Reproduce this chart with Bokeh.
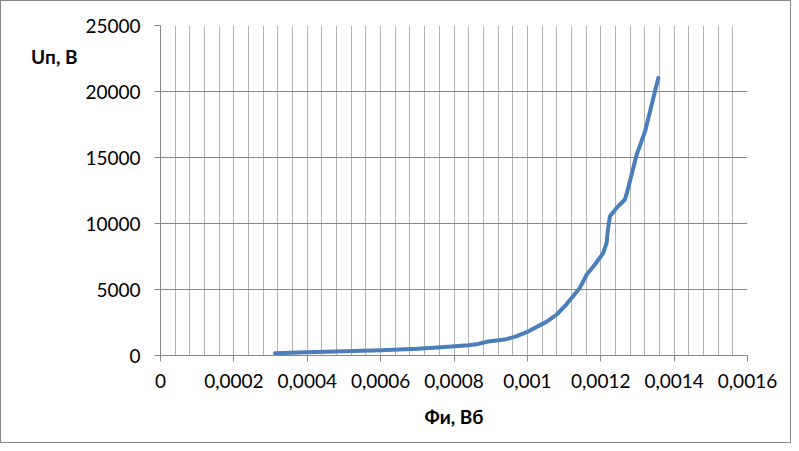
from bokeh.plotting import figure
from bokeh.models import Range1d, FixedTicker, LinearAxis
from bokeh.embed import file_html
from bokeh.resources import INLINE

phi = [0.000312, 0.000398, 0.000500, 0.000602, 0.000700, 0.000766, 0.000802, 0.000839,
       0.000866, 0.000893, 0.000916, 0.000943, 0.000971, 0.000998, 0.001025, 0.001052,
       0.001080, 0.001102, 0.001121, 0.001143, 0.001162, 0.001184, 0.001207, 0.001216,
       0.001219, 0.001225, 0.001243, 0.001266, 0.001275, 0.001284, 0.001298, 0.001321,
       0.001339, 0.001357]
U = [174, 250, 320, 400, 510, 629, 705, 780, 879, 1061, 1136, 1235, 1462, 1765, 2167,
     2545, 3106, 3735, 4364, 5121, 6136, 6894, 7773, 8530, 9417, 10553, 11182, 11818,
     12697, 13712, 15227, 16993, 19015, 21031]

x_ticks = [0, 0.0002, 0.0004, 0.0006, 0.0008, 0.001, 0.0012, 0.0014, 0.0016]
x_tick_labels = ["0", "0,0002", "0,0004", "0,0006", "0,0008", "0,001", "0,0012", "0,0014", "0,0016"]
x_minor = [i * 0.00004 for i in range(41)]
y_ticks = [0, 5000, 10000, 15000, 20000, 25000]
y_tick_labels = ["0", "5000", "10000", "15000", "20000", "25000"]
y_title = "Uп, В"
y_title_at = 22650

FONT = "Lato"
GRAY = "#868686"

p = figure(width=791, height=443, output_backend="svg", toolbar_location=None,
           x_range=Range1d(0, 0.0016), y_range=Range1d(0, 25000),
           min_border_left=159, min_border_right=45, min_border_top=24, min_border_bottom=89)
p.outline_line_color = None
p.background_fill_color = "white"
p.border_fill_color = "white"
p.styles = {"border": "1px solid #868686"}

p.line(phi, U, line_color="#4A7EBB", line_width=4, line_join="round", line_cap="round")

p.xaxis.ticker = FixedTicker(ticks=x_ticks, minor_ticks=x_minor)
p.xaxis.major_label_overrides = {t: l for t, l in zip(x_ticks, x_tick_labels)}
p.yaxis.ticker = FixedTicker(ticks=y_ticks)
p.yaxis.major_label_overrides = {t: l for t, l in zip(y_ticks, y_tick_labels)}

for ax in (p.xaxis[0], p.yaxis[0]):
    ax.axis_line_color = GRAY
    ax.major_tick_line_color = GRAY
    ax.major_tick_out = 6
    ax.major_tick_in = 0
    ax.minor_tick_line_color = None
    ax.major_label_text_font = FONT
    ax.major_label_text_font_size = "19px"
    ax.major_label_text_color = "black"

p.xaxis.major_label_standoff = 12
p.yaxis.major_label_standoff = 14
p.xaxis.axis_label = "Фи, Вб"
p.xaxis.axis_label_text_font = FONT
p.xaxis.axis_label_text_font_style = "bold"
p.xaxis.axis_label_text_font_size = "19px"
p.xaxis.axis_label_text_color = "black"
p.xaxis.axis_label_standoff = 14

# y title: a tick label of a bare extra axis, placed near the top like the reference
ytitle = LinearAxis(ticker=FixedTicker(ticks=[y_title_at]),
                    major_label_overrides={y_title_at: y_title},
                    axis_line_color=None, major_tick_line_color=None,
                    minor_tick_line_color=None, major_tick_out=0, major_tick_in=0,
                    major_label_text_font=FONT, major_label_text_font_style="bold",
                    major_label_text_font_size="19px", major_label_text_color="black",
                    major_label_standoff=5)
p.add_layout(ytitle, "left")

p.xgrid.ticker = FixedTicker(ticks=x_ticks, minor_ticks=x_minor)
p.xgrid.grid_line_color = "#B3B3B3"
p.xgrid.minor_grid_line_color = "#B3B3B3"
p.ygrid.ticker = FixedTicker(ticks=y_ticks)
p.ygrid.grid_line_color = GRAY

open("out.html", "w").write(file_html(p, INLINE))
